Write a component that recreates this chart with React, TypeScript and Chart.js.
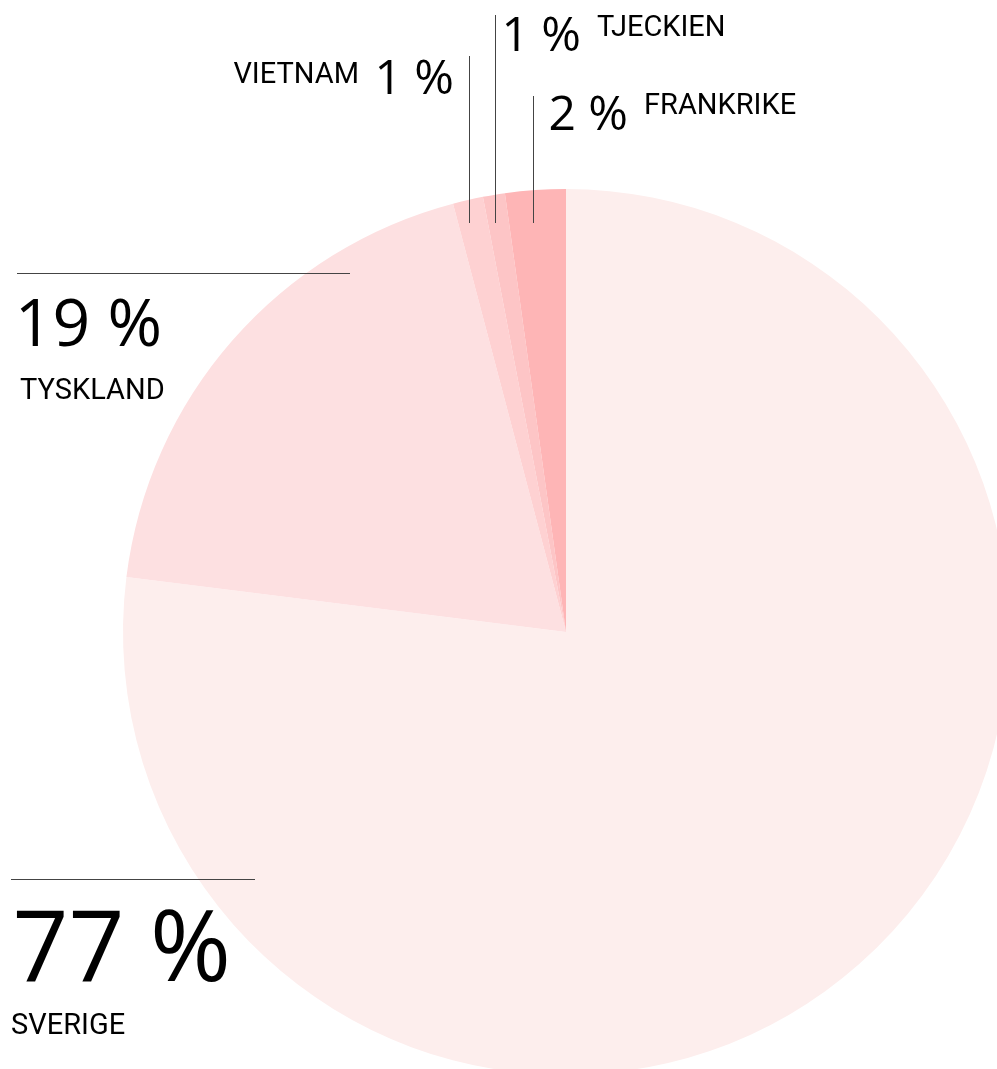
import React, { useEffect, useRef } from "react";
import { Chart, registerables } from "chart.js";

Chart.register(...registerables);

const countries = ["SVERIGE", "TYSKLAND", "VIETNAM", "TJECKIEN", "FRANKRIKE"];
const shares = [76.9, 18.9, 1.1, 0.8, 2.2];
const sliceColors = ["#fdeeed", "#fde0e1", "#fed1d2", "#fdc5c6", "#feb5b6"];

// label layout (annotation positions), index-matched to countries
type LabelLayout = {
  kind: "horizontal" | "vertical";
  line: [number, number, number, number];
  numX: number;
  numY: number;
  numAlign: CanvasTextAlign;
  numSize: number;
  nameX: number;
  nameY: number;
  nameAlign: CanvasTextAlign;
};

const labelLayout: LabelLayout[] = [
  { kind: "horizontal", line: [11, 879, 255, 879], numX: 231, numY: 981, numAlign: "right", numSize: 98, nameX: 11, nameY: 1034, nameAlign: "left" },
  { kind: "horizontal", line: [17, 273, 350, 273], numX: 162, numY: 346, numAlign: "right", numSize: 66, nameX: 20, nameY: 399, nameAlign: "left" },
  { kind: "vertical", line: [469, 56, 469, 223], numX: 454, numY: 94, numAlign: "right", numSize: 48, nameX: 359, nameY: 83, nameAlign: "right" },
  { kind: "vertical", line: [495, 15, 495, 223], numX: 581, numY: 51, numAlign: "right", numSize: 48, nameX: 597, nameY: 36, nameAlign: "left" },
  { kind: "vertical", line: [533, 96, 533, 223], numX: 628, numY: 130, numAlign: "right", numSize: 48, nameX: 644, nameY: 114, nameAlign: "left" },
];

const labelPlugin = {
  id: "pieLabels",
  afterDraw(chart: any) {
    const ctx = chart.ctx as CanvasRenderingContext2D;
    const data = chart.data.datasets[0].data as number[];
    ctx.save();
    labelLayout.forEach((l, i) => {
      ctx.strokeStyle = "#444";
      ctx.lineWidth = 1;
      ctx.beginPath();
      if (l.kind === "horizontal") {
        ctx.moveTo(l.line[0], l.line[1] + 0.5);
        ctx.lineTo(l.line[2], l.line[3] + 0.5);
      } else {
        ctx.moveTo(l.line[0] + 0.5, l.line[1]);
        ctx.lineTo(l.line[2] + 0.5, l.line[3]);
      }
      ctx.stroke();
      ctx.fillStyle = "#000";
      ctx.textBaseline = "alphabetic";
      ctx.font = `400 ${l.numSize}px "Open Sans"`;
      ctx.textAlign = l.numAlign;
      ctx.fillText(`${Math.round(data[i])} %`, l.numX, l.numY);
      ctx.font = `400 29px Roboto`;
      ctx.textAlign = l.nameAlign;
      ctx.fillText(chart.data.labels[i], l.nameX, l.nameY);
    });
    ctx.restore();
  },
};

export default function App() {
  const ref = useRef<HTMLCanvasElement>(null);
  useEffect(() => {
    if (!ref.current) return;
    const chart = new Chart(ref.current, {
      type: "pie",
      data: {
        labels: countries,
        datasets: [
          {
            data: shares,
            backgroundColor: sliceColors,
            borderWidth: 0,
          },
        ],
      },
      options: {
        responsive: false,
        animation: false,
        events: [],
        layout: { padding: { left: 123, right: 123, top: 189, bottom: 190 } },
        plugins: { legend: { display: false }, tooltip: { enabled: false } },
      },
      plugins: [labelPlugin],
    });
    return () => chart.destroy();
  }, []);
  return (
    <div style={{ position: "fixed", left: 0, top: 0, width: 997, height: 1069, overflow: "hidden", background: "#fff" }}>
      <canvas ref={ref} width={1132} height={1265} style={{ display: "block", width: 1132, height: 1265 }} />
    </div>
  );
}
